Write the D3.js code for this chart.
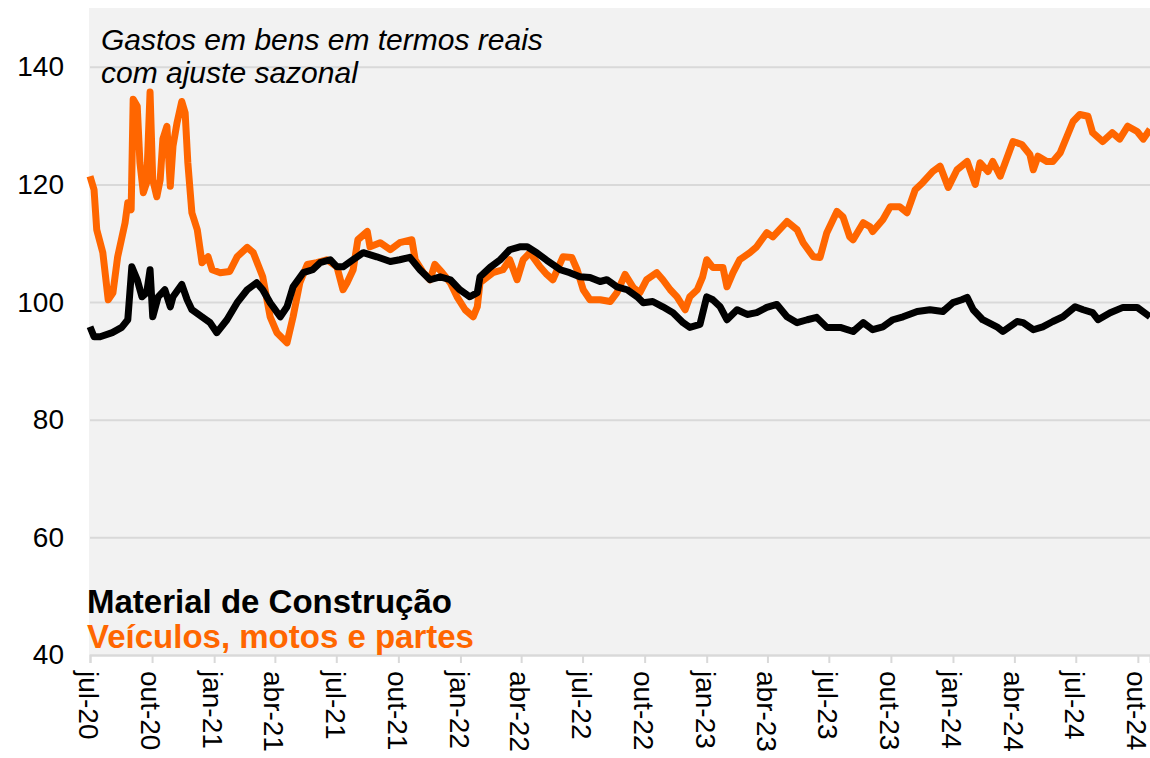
<!DOCTYPE html>
<html>
<head>
<meta charset="utf-8">
<script src="https://cdn.jsdelivr.net/npm/d3@7"></script>
<style>
    body { margin: 0; background: #fff; }
    svg { display: block; font-family: "Liberation Sans", Arial, sans-serif; }
</style>
</head>
<body>
<svg id="chart"></svg>
<script>
/* Veículos, motos e partes */
const veiculosDates = [
    "2020-07-01","2020-07-07","2020-07-11","2020-07-20","2020-07-28","2020-08-04","2020-08-11","2020-08-22",
    "2020-08-26","2020-08-31","2020-09-03","2020-09-09","2020-09-13","2020-09-18","2020-09-23","2020-09-28",
    "2020-10-02","2020-10-08","2020-10-13","2020-10-17","2020-10-23","2020-10-28","2020-11-01","2020-11-07",
    "2020-11-14","2020-11-19","2020-11-23","2020-11-29","2020-12-07","2020-12-14","2020-12-23","2020-12-29",
    "2021-01-10","2021-01-24","2021-02-04","2021-02-19","2021-02-28","2021-03-14","2021-03-25","2021-04-04",
    "2021-04-19","2021-04-28","2021-05-08","2021-05-19","2021-06-02","2021-06-17","2021-07-02","2021-07-11",
    "2021-07-17","2021-07-26","2021-08-02","2021-08-16","2021-08-20","2021-09-04","2021-09-19","2021-10-03",
    "2021-10-21","2021-10-26","2021-11-07","2021-11-17","2021-11-24","2021-12-05","2021-12-17","2021-12-27",
    "2022-01-08","2022-01-20","2022-01-26","2022-01-30","2022-02-18","2022-03-05","2022-03-15","2022-03-26",
    "2022-04-04","2022-04-14","2022-04-29","2022-05-09","2022-05-18","2022-06-02","2022-06-15","2022-06-23",
    "2022-07-02","2022-07-12","2022-07-27","2022-08-11","2022-08-21","2022-09-02","2022-09-14","2022-09-24",
    "2022-10-04","2022-10-19","2022-10-28","2022-11-08","2022-11-18","2022-11-30","2022-12-07","2022-12-18",
    "2022-12-26","2023-01-01","2023-01-10","2023-01-25","2023-01-31","2023-02-09","2023-02-19","2023-03-06",
    "2023-03-16","2023-03-31","2023-04-09","2023-04-30","2023-05-15","2023-05-24","2023-06-08","2023-06-18",
    "2023-06-28","2023-07-13","2023-07-22","2023-08-01","2023-08-06","2023-08-21","2023-08-31","2023-09-04",
    "2023-09-19","2023-09-30","2023-10-14","2023-10-25","2023-11-06","2023-11-17","2023-12-02","2023-12-13",
    "2023-12-25","2024-01-07","2024-01-22","2024-02-03","2024-02-10","2024-02-22","2024-02-29","2024-03-11",
    "2024-03-30","2024-04-12","2024-04-24","2024-04-29","2024-05-06","2024-05-19","2024-05-28","2024-06-08",
    "2024-06-18","2024-06-27","2024-07-07","2024-07-19","2024-07-26","2024-08-10","2024-08-24","2024-09-04",
    "2024-09-16","2024-09-30","2024-10-09","2024-10-19"
];
const veiculosValues = [
    121.4,119.1,112.3,108.4,100.4,101.6,107.7,113.5,
    116.9,115.7,134.5,133.3,123.7,118.6,120.3,135.7,
    120.8,117.9,120.8,127.7,129.9,119.7,126.5,130.5,
    134.1,132.2,123.7,115.2,112.3,106.7,107.7,105.5,
    105.0,105.2,107.7,109.3,108.4,104.3,97.5,94.8,
    93.1,97.5,103.3,106.4,106.7,107.2,106.0,102.1,
    103.3,105.5,110.6,112.0,109.4,110.1,108.9,110.1,
    110.6,107.2,105.0,103.8,106.4,105.0,103.3,100.9,
    98.7,97.5,99.2,103.3,105.0,105.5,107.2,103.8,
    107.2,108.4,106.0,104.7,103.8,107.7,107.6,105.5,
    102.1,100.4,100.4,100.1,101.6,104.7,102.5,101.6,
    103.8,105.0,103.8,102.1,100.9,98.7,100.9,102.1,
    104.3,107.2,105.9,105.9,102.6,105.0,107.2,108.4,
    109.4,111.8,111.1,113.7,112.3,110.1,107.7,107.6,
    111.8,115.4,114.5,111.1,110.6,113.5,112.8,112.0,
    114.0,116.2,116.2,115.2,119.1,120.3,122.2,123.1,
    119.5,122.5,123.9,120.0,123.7,122.2,123.9,121.4,
    127.3,126.8,125.1,122.5,124.8,123.9,123.9,125.4,
    128.2,130.7,131.9,131.6,128.8,127.3,128.8,127.7,
    129.9,129.0,127.7,129.4
];

/* Material de Construção */
const materialDates = [
    "2020-07-01","2020-07-07","2020-07-16","2020-08-03","2020-08-17","2020-08-26","2020-09-01","2020-09-09",
    "2020-09-16","2020-09-23","2020-09-28","2020-10-02","2020-10-10","2020-10-20","2020-10-28","2020-11-01",
    "2020-11-14","2020-11-22","2020-11-29","2020-12-14","2020-12-26","2021-01-05","2021-01-20","2021-02-04",
    "2021-02-19","2021-03-05","2021-03-14","2021-03-25","2021-04-09","2021-04-19","2021-04-28","2021-05-13",
    "2021-05-27","2021-06-07","2021-06-22","2021-07-02","2021-07-11","2021-07-26","2021-08-10","2021-08-30",
    "2021-09-19","2021-10-03","2021-10-18","2021-11-02","2021-11-17","2021-12-02","2021-12-17","2021-12-31",
    "2022-01-15","2022-01-26","2022-01-30","2022-02-14","2022-03-01","2022-03-15","2022-03-30","2022-04-10",
    "2022-04-24","2022-05-09","2022-05-29","2022-06-12","2022-06-27","2022-07-12","2022-07-27","2022-08-06",
    "2022-08-21","2022-09-05","2022-09-20","2022-09-29","2022-10-13","2022-10-28","2022-11-12","2022-11-27",
    "2022-12-07","2022-12-22","2023-01-01","2023-01-10","2023-01-21","2023-01-31","2023-02-15","2023-03-02",
    "2023-03-16","2023-03-31","2023-04-15","2023-04-30","2023-05-15","2023-05-30","2023-06-13","2023-06-28",
    "2023-07-18","2023-08-06","2023-08-21","2023-09-04","2023-09-19","2023-10-04","2023-10-19","2023-11-09",
    "2023-11-28","2023-12-17","2024-01-01","2024-01-14","2024-01-22","2024-01-31","2024-02-14","2024-03-06",
    "2024-03-15","2024-04-05","2024-04-14","2024-04-29","2024-05-13","2024-05-28","2024-06-12","2024-06-30",
    "2024-07-12","2024-07-26","2024-08-03","2024-08-21","2024-09-09","2024-09-30","2024-10-19"
];
const materialValues = [
    95.8,94.1,94.1,94.8,95.7,97.0,106.0,103.8,
    100.9,101.6,105.5,97.5,100.9,102.1,99.2,100.9,
    103.0,100.4,98.7,97.5,96.5,94.8,97.0,99.9,
    102.1,103.3,102.1,99.9,97.5,99.2,102.6,105.0,
    105.5,106.7,107.2,106.0,106.0,107.2,108.4,107.7,
    106.9,107.2,107.6,105.5,103.8,104.3,103.8,102.1,
    100.9,101.6,104.3,105.9,107.2,108.9,109.4,109.4,
    108.4,107.1,105.5,105.0,104.3,104.2,103.5,103.8,
    102.6,102.1,100.9,99.9,100.1,99.2,98.2,96.5,
    95.7,96.2,100.9,100.4,99.2,97.0,98.7,97.9,
    98.2,99.1,99.6,97.5,96.5,97.0,97.4,95.7,
    95.7,95.0,96.5,95.3,95.8,97.0,97.5,98.4,
    98.7,98.4,99.9,100.4,100.8,98.7,97.0,95.8,
    95.0,96.7,96.5,95.3,95.8,96.7,97.5,99.2,
    98.7,98.2,97.0,98.2,99.1,99.1,97.5
];

/* Axis ticks */
const yTicks = [40, 60, 80, 100, 120, 140];
const xTickDates = [
    "2020-07-01","2020-10-01","2021-01-01","2021-04-01","2021-07-01","2021-10-01",
    "2022-01-01","2022-04-01","2022-07-01","2022-10-01","2023-01-01","2023-04-01",
    "2023-07-01","2023-10-01","2024-01-01","2024-04-01","2024-07-01","2024-10-01"
];
const xTickLabels = [
    "jul-20","out-20","jan-21","abr-21","jul-21","out-21",
    "jan-22","abr-22","jul-22","out-22","jan-23","abr-23",
    "jul-23","out-23","jan-24","abr-24","jul-24","out-24"
];

const WIDTH = 1150, HEIGHT = 758;
const LEFT = 90, RIGHT = 1150, TOP = 8, BOTTOM = 655;
const ORANGE = "#ff6600";

const parseDate = d3.timeParse("%Y-%m-%d");
const veiculos = veiculosDates.map((d, i) => ({ date: parseDate(d), value: veiculosValues[i] }));
const material = materialDates.map((d, i) => ({ date: parseDate(d), value: materialValues[i] }));

/* Scale */
const xScale = d3.scaleTime()
    .domain([parseDate("2020-07-01"), parseDate("2024-10-19")])
    .range([LEFT, RIGHT]);

const yScale = d3.scaleLinear()
    .domain([40, 150])
    .range([BOTTOM, TOP]);

const svg = d3.select("#chart")
    .attr("width", WIDTH)
    .attr("height", HEIGHT);

/* Plot background */
svg.append("rect")
    .attr("x", LEFT - 1)
    .attr("y", TOP)
    .attr("width", RIGHT - LEFT + 1)
    .attr("height", BOTTOM - TOP)
    .attr("fill", "#f2f2f2");

/* Grid lines + y labels */
const yAxis = d3.axisLeft(yScale)
    .tickValues(yTicks)
    .tickSize(-(RIGHT - LEFT))
    .tickPadding(26)
    .tickFormat(d3.format("d"));

svg.append("g")
    .attr("class", "yAxis")
    .attr("transform", `translate(${LEFT}, 0)`)
    .call(yAxis)
    .call(g => g.select(".domain").remove())
    .call(g => g.selectAll(".tick line").attr("stroke", "#d9d9d9").attr("stroke-width", 2))
    .call(g => g.selectAll(".tick text")
        .attr("fill", "#000")
        .style("font-size", "28px"));

/* X axis */
const xAxis = d3.axisBottom(xScale)
    .tickValues(xTickDates.map(parseDate))
    .tickSize(8)
    .tickPadding(0)
    .tickFormat((d, i) => xTickLabels[i]);

svg.append("g")
    .attr("class", "xAxis")
    .attr("transform", `translate(0, ${BOTTOM})`)
    .call(xAxis)
    .call(g => g.select(".domain").attr("stroke", "#d9d9d9").attr("stroke-width", 2))
    .call(g => g.selectAll(".tick line").attr("stroke", "#d9d9d9").attr("stroke-width", 2))
    .call(g => g.selectAll(".tick text")
        .attr("fill", "#000")
        .style("font-size", "28px")
        .attr("text-anchor", "start")
        .attr("transform", "rotate(90)")
        .attr("x", 16)
        .attr("y", 0)
        .attr("dy", "0.4em"));

/* Lines */
const line = d3.line()
    .x(d => xScale(d.date))
    .y(d => yScale(d.value));

svg.append("path")
    .datum(veiculos)
    .attr("fill", "none")
    .attr("stroke", ORANGE)
    .attr("stroke-width", 7)
    .attr("stroke-linejoin", "round")
    .attr("d", line);

svg.append("path")
    .datum(material)
    .attr("fill", "none")
    .attr("stroke", "#000")
    .attr("stroke-width", 7)
    .attr("stroke-linejoin", "round")
    .attr("d", line);

/* Annotation */
const note = svg.append("text")
    .attr("x", 101)
    .attr("y", 50)
    .style("font-size", "30px")
    .style("font-style", "italic")
    .attr("fill", "#000");
note.append("tspan").attr("x", 101).text("Gastos em bens em termos reais");
note.append("tspan").attr("x", 101).attr("dy", 33).text("com ajuste sazonal");

/* Legend */
svg.append("text")
    .attr("x", 87)
    .attr("y", 613)
    .style("font-size", "33px")
    .style("font-weight", "bold")
    .attr("fill", "#000")
    .text("Material de Construção");

svg.append("text")
    .attr("x", 87)
    .attr("y", 648)
    .style("font-size", "33px")
    .style("font-weight", "bold")
    .attr("fill", ORANGE)
    .text("Veículos, motos e partes");
</script>
</body>
</html>
